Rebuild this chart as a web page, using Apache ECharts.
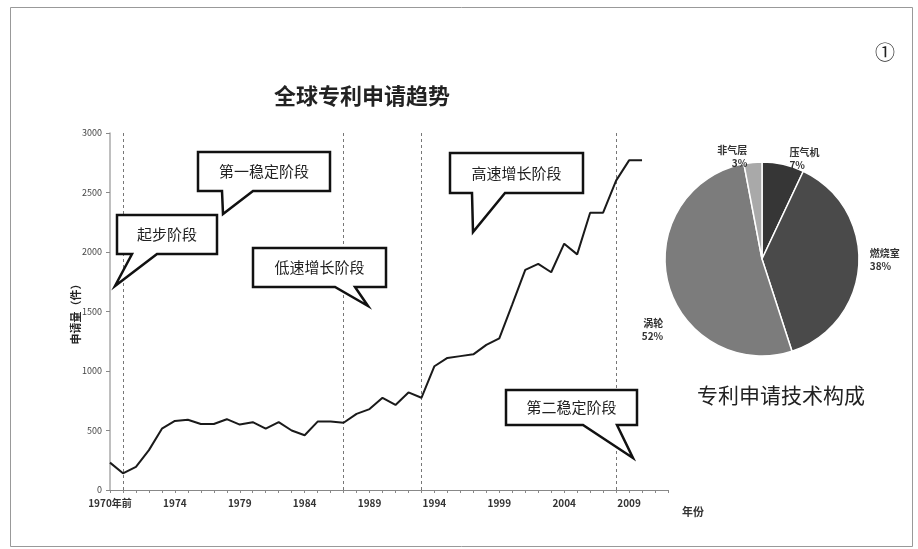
<!DOCTYPE html>
<html><head><meta charset="utf-8">
<script src="https://cdn.jsdelivr.net/npm/echarts@6/dist/echarts.min.js"></script>
<style>html,body{margin:0;padding:0;background:#fff}#c{width:918px;height:549px}</style>
</head><body><div id="c"></div>
<script>
const years = ["1970年前","1970","1971","1972","1973","1974","1975","1976","1977","1978","1979","1980","1981","1982","1983","1984","1985","1986","1987","1988","1989","1990","1991","1992","1993","1994","1995","1996","1997","1998","1999","2000","2001","2002","2003","2004","2005","2006","2007","2008","2009","2010","2011","2012"];
const applications = [230,140,195,335,515,580,590,555,555,595,550,570,515,570,500,460,575,575,565,640,680,775,715,820,775,1040,1110,1125,1140,1220,1275,1560,1850,1900,1830,2070,1980,2330,2330,2600,2770,2770,null,null];
const stageLines = ["1970","1987","1993","2008"];
const pieNames = ["压气机","燃烧室","涡轮","非气层"];
const pieValues = [7,38,52,3];
const pieColors = ["#363636","#4a4a4a","#7c7c7c","#a9a9a9"];

const FONT = '"Noto Sans CJK SC", sans-serif';
function bubble(rect, tail, text) {
  const [x1,y1,x2,y2] = rect;
  const [a,tip,b] = tail;
  return [{
    type:'polygon', z:20,
    shape:{points:[[x1,y1],[x2,y1],[x2,y2],[b,y2],tip,[a,y2],[x1,y2]]},
    style:{fill:'#fff', stroke:'#111', lineWidth:2.5, lineJoin:'miter'}
  },{
    type:'text', z:21, x:(x1+x2)/2, y:(y1+y2)/2,
    style:{text:text, fill:'#222', font:'15px '+FONT, align:'center', verticalAlign:'middle'}
  }];
}

const chart = echarts.init(document.getElementById('c'));
chart.setOption({
  backgroundColor:'#fff',
  animation:false,
  textStyle:{fontFamily:FONT},
  title:[
    {text:'全球专利申请趋势', left:357, top:80, textAlign:'center',
     textStyle:{fontSize:22, fontWeight:'bold', color:'#222', fontFamily:FONT}},
    {text:'专利申请技术构成', left:776, top:380, textAlign:'center',
     textStyle:{fontSize:21, fontWeight:'normal', color:'#222', fontFamily:FONT}}
  ],
  grid:{left:110, top:133, right:250, bottom:59},
  xAxis:{
    type:'category', data:years, boundaryGap:false,
    axisLine:{lineStyle:{color:'#888', width:1}},
    axisTick:{interval:0, length:3, lineStyle:{color:'#888'}},
    axisLabel:{interval:4, color:'#333', fontSize:10, fontWeight:'bold', margin:8, fontFamily:FONT},
    name:'年份', nameLocation:'end', nameGap:14,
    nameTextStyle:{color:'#333', fontSize:11, fontWeight:'bold', verticalAlign:'top', padding:[16,0,0,0]}
  },
  yAxis:{
    type:'value', min:0, max:3000, interval:500,
    splitLine:{show:false},
    axisLine:{show:true, lineStyle:{color:'#aaa', width:1.5}},
    axisTick:{show:true, length:4, lineStyle:{color:'#888'}},
    axisLabel:{color:'#444', fontSize:9, margin:8, fontFamily:FONT, formatter:v=>String(v)},
    name:'申请量（件）', nameLocation:'middle', nameGap:29, nameRotate:90, nameMoveOverlap:false,
    nameTextStyle:{color:'#222', fontSize:11, fontWeight:'bold'}
  },
  series:[
    {type:'line', data:applications, showSymbol:false, symbol:'none',
     lineStyle:{color:'#1a1a1a', width:2}, z:5,
     markLine:{silent:true, symbol:'none', label:{show:false},
       lineStyle:{color:'#777', type:[3,3], width:1},
       data:stageLines.map(v=>({xAxis:v}))}},
    {type:'pie', center:[762,259], radius:97, startAngle:90, clockwise:true,
     data:pieNames.map((n,i)=>({name:n, value:pieValues[i], itemStyle:{color:pieColors[i]}})),
     itemStyle:{borderColor:'#fff', borderWidth:1.5},
     label:{show:true, position:'outside', formatter:'{b}\n{d}%', color:'#333',
       fontSize:10, fontWeight:'bold', lineHeight:13, align:'center'},
     labelLine:{show:false, length:6, length2:0},
     labelLayout:function(p){
       if (p.dataIndex === 2) return {dy:45, dx:6};
       if (p.dataIndex === 1) return {dy:-6};
       return {};
     }}
  ],
  graphic:[
    {type:'rect', shape:{x:10.5, y:7.5, width:902, height:539}, style:{fill:'none', stroke:'#999', lineWidth:1}, z:0},
    {type:'text', x:885, y:52, style:{text:'①', font:'20px '+FONT, fill:'#222', align:'center', verticalAlign:'middle'}},
    ...bubble([117,215,217,254],[132,[115,286],157],'起步阶段'),
    ...bubble([198,152,330,191],[222,[223,214],253],'第一稳定阶段'),
    ...bubble([253,248,386,287],[335,[368,306],355],'低速增长阶段'),
    ...bubble([450,153,583,193],[472,[473,232],505],'高速增长阶段'),
    ...bubble([506,390,637,425],[583,[633,458],617],'第二稳定阶段')
  ]
});
</script></body></html>
